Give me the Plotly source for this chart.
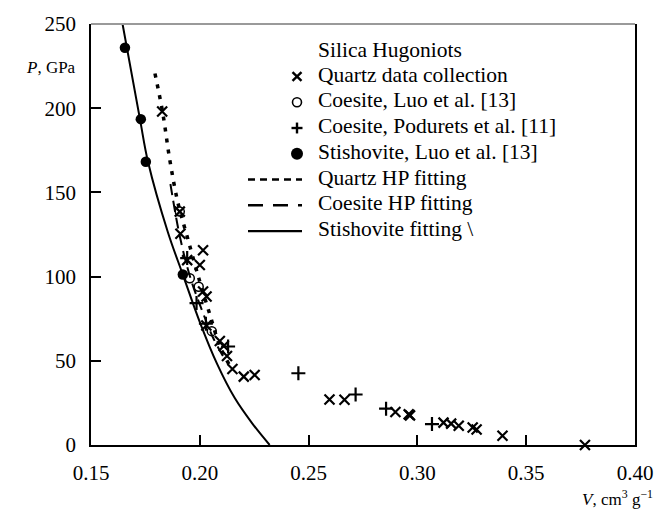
import plotly.graph_objects as go

# Quartz data collection (x markers)
quartz_v = [0.1827, 0.1908, 0.1911, 0.2015, 0.1942, 0.2000, 0.2015, 0.2031, 0.2030,
            0.2092, 0.2110, 0.2125, 0.2150, 0.2202, 0.2252, 0.2596, 0.2665, 0.2899,
            0.2960, 0.2966, 0.3120, 0.3155, 0.3190, 0.3254, 0.3272, 0.3391, 0.3770]
quartz_p = [198.0, 138.6, 125.5, 115.7, 109.8, 106.9, 91.2, 88.2, 71.0,
            61.8, 58.8, 52.9, 45.1, 40.6, 41.6, 27.0, 26.9, 19.6,
            18.2, 17.6, 13.3, 12.7, 11.4, 10.4, 9.2, 5.5, 0.0]

# Coesite, Luo et al. [13] (open circles)
coes_luo_v = [0.1908, 0.1954, 0.1995, 0.2055]
coes_luo_p = [138.6, 99.0, 94.0, 67.6]

# Coesite, Podurets et al. [11] (+ markers)
coes_pod_v = [0.1942, 0.1985, 0.2028, 0.2130, 0.2453, 0.2716, 0.2856, 0.3067]
coes_pod_p = [111.0, 84.3, 72.0, 58.5, 42.6, 30.0, 21.6, 12.4]

# Stishovite, Luo et al. [13] (filled circles)
stish_v = [0.1656, 0.1729, 0.1752, 0.1922]
stish_p = [235.9, 193.5, 168.2, 101.2]

# Quartz HP fitting (dotted)
qfit_v = [0.1794, 0.1830, 0.1862, 0.1899, 0.1945, 0.2000, 0.2046, 0.2092, 0.2138]
qfit_p = [220.6, 197.0, 169.4, 144.1, 122.4, 97.0, 77.6, 58.8, 47.0]

# Coesite HP fitting (dashed)
cfit_v = [0.1865, 0.1908, 0.1955, 0.2010, 0.2060, 0.2110]
cfit_p = [155.0, 124.0, 100.0, 80.0, 64.0, 52.0]

# Stishovite fitting (solid)
sfit_v = [0.1645, 0.1725, 0.1762, 0.1853, 0.1922, 0.2000, 0.2080, 0.2160, 0.2240, 0.2321]
sfit_p = [250.0, 193.5, 168.2, 126.5, 101.2, 73.0, 48.0, 28.0, 13.0, 0.0]

x_ticks = [0.15, 0.20, 0.25, 0.30, 0.35, 0.40]
y_ticks = [0, 50, 100, 150, 200, 250]

legend_title = "Silica Hugoniots"
legend_labels = ["Quartz data collection", "Coesite, Luo et al. [13]",
                 "Coesite, Podurets et al. [11]", "Stishovite, Luo et al. [13]",
                 "Quartz HP fitting", "Coesite HP fitting", "Stishovite fitting \\"]

FONT = "Liberation Serif"

# plot-area geometry in pixels (used for the hand-drawn legend)
L, R, T, B = 91, 635, 20, 445
W, H = R - L, B - T


def px(x):
    return (x - L) / W


def py(y):
    return (B - y) / H


fig = go.Figure()
fig.add_trace(go.Scatter(x=quartz_v, y=quartz_p, mode="markers", name=legend_labels[0],
                         marker=dict(symbol="x-thin", size=10, color="black",
                                     line=dict(width=2.2, color="black")),
                         cliponaxis=False))
fig.add_trace(go.Scatter(x=coes_luo_v, y=coes_luo_p, mode="markers", name=legend_labels[1],
                         marker=dict(symbol="circle-open", size=9, color="black",
                                     line=dict(width=1.5, color="black"))))
fig.add_trace(go.Scatter(x=coes_pod_v, y=coes_pod_p, mode="markers", name=legend_labels[2],
                         marker=dict(symbol="cross-thin", size=10, color="black",
                                     line=dict(width=2.2, color="black"))))
fig.add_trace(go.Scatter(x=stish_v, y=stish_p, mode="markers", name=legend_labels[3],
                         marker=dict(symbol="circle", size=10.5, color="black")))
fig.add_trace(go.Scatter(x=qfit_v, y=qfit_p, mode="lines", name=legend_labels[4],
                         line=dict(color="black", width=3.5, dash="4px,7px", shape="spline")))
fig.add_trace(go.Scatter(x=cfit_v, y=cfit_p, mode="lines", name=legend_labels[5],
                         line=dict(color="black", width=2, dash="11px,6px", shape="spline")))
fig.add_trace(go.Scatter(x=sfit_v, y=sfit_p, mode="lines", name=legend_labels[6],
                         line=dict(color="black", width=2, shape="spline")))

axis_common = dict(showgrid=False, zeroline=False, showline=True, linecolor="black", linewidth=1.8,
                   ticks="inside", ticklen=10, tickwidth=1.5, tickcolor="black",
                   tickfont=dict(family=FONT, size=21, color="black"))

fig.update_layout(
    width=668, height=512,
    margin=dict(l=L, r=668 - R, t=T, b=512 - B),
    plot_bgcolor="white", paper_bgcolor="white",
    font=dict(family=FONT, color="black"),
    xaxis=dict(range=[0.15, 0.40], tickvals=x_ticks, ticktext=[f"{v:.2f}" for v in x_ticks],
               mirror=False, ticklabelstandoff=8, **axis_common),
    yaxis=dict(range=[0, 250], tickvals=y_ticks, ticktext=[str(v) for v in y_ticks],
               mirror=True, ticklabelstandoff=9, **axis_common),
    showlegend=False,
)

# top frame line (grey)
fig.add_shape(type="line", xref="paper", yref="paper", x0=0, x1=1, y0=1, y1=1,
              line=dict(color="#9a9a9a", width=1.8))

# ---- hand-drawn legend ----
LEG_FS = 21.5
text_x = 316
sym_x = 297
row_y0, row_dy = 71, 26
rows = [row_y0 + i * row_dy for i in range(len(legend_labels))]

fig.add_annotation(text=legend_title, xref="paper", yref="paper", x=px(text_x), y=py(46),
                   xanchor="left", yanchor="middle", showarrow=False,
                   font=dict(family=FONT, size=LEG_FS, color="black"))
for lab, yy in zip(legend_labels, rows):
    fig.add_annotation(text=lab, xref="paper", yref="paper", x=px(text_x), y=py(yy),
                       xanchor="left", yanchor="middle", showarrow=False,
                       font=dict(family=FONT, size=LEG_FS, color="black"))


def seg(x0, y0, x1, y1, w=2.5, dash="solid"):
    fig.add_shape(type="line", xref="paper", yref="paper", x0=px(x0), y0=py(y0), x1=px(x1),
                  y1=py(y1), line=dict(color="black", width=w, dash=dash))


sym_rows = [y + 2 for y in rows]
# x symbol
r = 4.5
seg(sym_x - r, sym_rows[0] - r, sym_x + r, sym_rows[0] + r, 2.4)
seg(sym_x - r, sym_rows[0] + r, sym_x + r, sym_rows[0] - r, 2.4)
# open circle
r = 4.5
fig.add_shape(type="circle", xref="paper", yref="paper", x0=px(sym_x - r), x1=px(sym_x + r),
              y0=py(sym_rows[1] + r), y1=py(sym_rows[1] - r), line=dict(color="black", width=1.6))
# plus
r = 5.5
seg(sym_x - r, sym_rows[2], sym_x + r, sym_rows[2], 2.4)
seg(sym_x, sym_rows[2] - r, sym_x, sym_rows[2] + r, 2.4)
# filled circle
r = 6
fig.add_shape(type="circle", xref="paper", yref="paper", x0=px(sym_x - r), x1=px(sym_x + r),
              y0=py(sym_rows[3] + r), y1=py(sym_rows[3] - r), fillcolor="black",
              line=dict(color="black", width=0))
# line samples
seg(248, sym_rows[4], 302, sym_rows[4], 2.6, "7px,5px")
seg(248, sym_rows[5], 302, sym_rows[5], 2.6, "15px,10px")
seg(248, sym_rows[6], 302, sym_rows[6], 2.2)

# axis titles
fig.add_annotation(text="<i>P</i>, GPa", xref="paper", yref="paper", x=px(78), y=py(64),
                   xanchor="right", yanchor="middle", showarrow=False,
                   font=dict(family=FONT, size=17, color="black"))
fig.add_annotation(text="<i>V</i>, cm<sup>3</sup> g<sup>−1</sup>", xref="paper", yref="paper",
                   x=px(655), y=py(499), xanchor="right", yanchor="middle", showarrow=False,
                   font=dict(family=FONT, size=17, color="black"))

fig.write_html("out.html")
